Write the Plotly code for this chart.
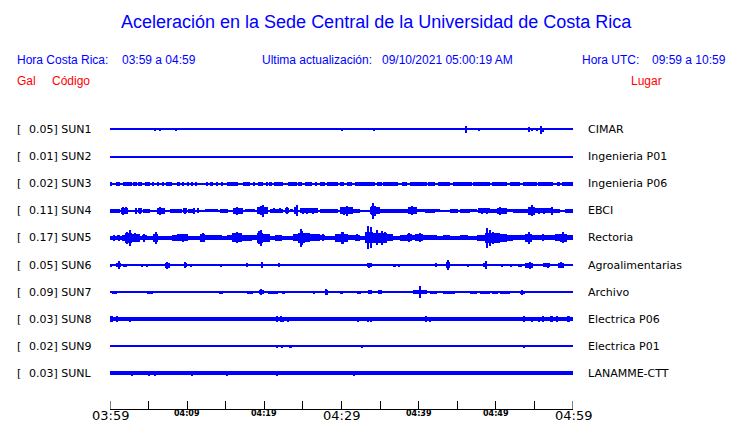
import plotly.graph_objects as go

# ---------------- data ----------------
STATIONS = ["SUN1", "SUN2", "SUN3", "SUN4", "SUN5", "SUN6", "SUN7", "SUN8", "SUN9", "SUNL"]
GAL = ["0.05", "0.01", "0.02", "0.11", "0.17", "0.05", "0.09", "0.03", "0.02", "0.03"]
PLACES = ["CIMAR", "Ingenieria P01", "Ingenieria P06", "EBCI", "Rectoria",
          "Agroalimentarias", "Archivo", "Electrica P06", "Electrica P01", "LANAMME-CTT"]
TICK_MIN = [0, 5, 10, 15, 20, 25, 30, 35, 40, 45, 50, 55, 60]
BIG_LABELS = {0: "03:59", 30: "04:29", 60: "04:59"}
SMALL_LABELS = {10: "04:09", 20: "04:19", 40: "04:39", 50: "04:49"}

# baseline half-amplitude (px) of each trace
BASE_HALF = [0.6, 0.6, 0.6, 1.0, 1.8, 0.6, 0.6, 2.0, 0.6, 2.0]

# envelope segments (start min, end min, half amplitude px)
SUN1_SEG = [(46.0, 46.3, 2.0), (56.0, 56.3, 2.0)]
SUN1_SPK = [(5.83, 1.2), (6.48, 1.2), (8.55, 1.7), (30.06, 1.0), (34.21, 1.5), (46.13, 3.3),
            (47.82, 1.5), (54.30, 2.5), (54.69, 1.2), (55.33, 1.0), (55.85, 4.0)]
SUN2_SEG = []
SUN2_SPK = [(21.64, 1.0)]
SUN3_SEG = [(0.0, 0.3, 1.9), (0.73, 1.30, 1.9), (1.73, 2.81, 1.9), (3.02, 3.46, 1.9), (3.67, 4.10, 1.9),
            (4.54, 5.18, 1.9), (6.13, 6.35, 1.9), (7.56, 7.99, 1.9), (8.64, 9.07, 1.9),
            (12.53, 12.74, 1.9), (12.96, 13.39, 1.9), (14.47, 14.69, 1.9), (15.12, 16.63, 1.9),
            (17.28, 18.14, 1.9), (18.57, 18.79, 1.9), (19.22, 19.87, 1.9), (20.73, 20.95, 1.9),
            (21.30, 22.46, 1.9), (23.02, 24.19, 1.9), (24.41, 24.84, 1.9), (25.27, 26.13, 1.9),
            (26.57, 26.78, 1.9), (27.21, 27.86, 1.9), (28.08, 29.59, 1.9), (29.81, 30.37, 1.9),
            (30.67, 31.32, 1.9), (31.75, 34.34, 1.9), (34.56, 35.21, 1.9), (35.42, 37.37, 1.9),
            (37.80, 38.44, 1.9), (38.88, 41.04, 1.9), (41.25, 42.12, 1.9), (42.55, 44.06, 1.9),
            (44.49, 46.87, 1.9), (47.08, 49.24, 1.9), (49.46, 51.40, 1.9), (51.84, 53.13, 1.9),
            (53.56, 55.29, 1.9), (55.51, 57.45, 1.9), (57.88, 58.31, 1.9), (58.53, 60.0, 1.9)]
SUN3_SPK = [(5.62, 1.9), (6.91, 1.9), (7.34, 1.9), (9.42, 1.9), (10.06, 1.9), (10.58, 1.9),
            (11.10, 1.9), (13.82, 1.9), (20.30, 1.9)]
SUN4_SEG = [(0.0, 1.3, 1.8), (1.43, 2.38, 3.0), (3.67, 4.10, 2.5), (4.32, 5.18, 2.0), (5.4, 5.83, 1.0),
            (6.05, 7.13, 3.0), (7.35, 7.56, 0.8), (7.78, 9.29, 2.0), (9.5, 9.94, 2.5), (10.15, 11.01, 2.2),
            (12.31, 14.04, 1.5), (14.26, 15.34, 1.8), (15.98, 17.28, 3.0), (17.5, 18.79, 1.5),
            (19.0, 20.52, 3.5), (20.73, 22.46, 2.0), (22.68, 23.2, 2.5), (23.33, 23.76, 1.5),
            (23.89, 24.41, 3.5), (24.62, 27.0, 2.5), (27.21, 29.59, 2.0), (29.81, 31.53, 3.5),
            (31.53, 32.40, 1.8), (33.69, 34.99, 3.5), (34.99, 35.85, 2.0), (35.85, 38.66, 1.8),
            (38.66, 39.74, 3.5), (39.74, 40.82, 1.5), (40.82, 42.12, 1.8), (42.12, 42.76, 1.5),
            (44.06, 45.14, 2.0), (45.36, 46.65, 1.8), (46.65, 47.52, 1.5), (47.73, 49.24, 2.5),
            (49.24, 50.11, 2.2), (50.11, 51.40, 3.0), (51.40, 52.27, 1.5), (52.27, 53.35, 1.8),
            (53.35, 54.21, 2.0), (54.21, 55.08, 4.0), (55.08, 56.59, 2.5), (56.59, 57.45, 2.5),
            (57.45, 58.31, 2.0), (58.96, 59.61, 1.8), (59.61, 60.0, 2.0)]
SUN4_SPK = [(1.73, 3.7), (2.03, 3.5), (3.33, 3.0), (3.89, 3.0), (6.48, 4.3), (9.72, 3.0), (10.93, 3.0),
            (11.45, 2.5), (16.41, 4.0), (19.6, 4.5), (19.78, 6.0), (21.2, 2.5), (22.0, 2.5), (22.89, 3.5),
            (24.23, 5.5), (25.0, 3.0), (25.6, 3.0), (26.3, 3.0), (30.3, 4.0), (30.67, 5.3), (33.9, 4.5),
            (34.13, 7.8), (34.4, 5.0), (39.09, 4.5), (48.2, 3.0), (48.9, 3.0), (50.6, 4.0), (54.64, 5.5),
            (55.6, 3.0), (56.2, 3.0), (57.24, 4.0)]
SUN5_SEG = [(0.0, 0.43, 2.0), (0.86, 1.30, 2.5), (1.51, 1.94, 3.0), (1.94, 2.81, 5.0), (2.81, 3.89, 4.0),
            (4.10, 4.75, 2.5), (4.97, 5.62, 2.0), (5.62, 6.26, 4.0), (6.26, 7.99, 2.0), (7.99, 8.64, 3.0),
            (8.64, 10.15, 3.5), (10.15, 11.66, 2.0), (11.66, 12.31, 4.0), (12.31, 13.61, 2.5),
            (13.61, 14.47, 2.5), (14.69, 15.12, 2.0), (15.12, 15.77, 2.5), (15.77, 17.06, 4.5),
            (17.06, 18.36, 3.0), (18.36, 19.01, 2.5), (19.01, 19.87, 5.0), (19.87, 20.73, 4.0),
            (20.95, 21.38, 2.0), (21.38, 22.25, 3.0), (22.46, 23.76, 2.0), (23.76, 24.41, 3.5),
            (24.41, 25.27, 5.0), (25.27, 25.92, 4.5), (25.92, 27.21, 3.5), (27.21, 27.86, 2.5),
            (27.86, 29.16, 2.0), (29.16, 30.89, 4.0), (30.89, 31.75, 2.5), (31.75, 32.40, 3.0),
            (32.40, 33.05, 2.0), (33.05, 34.13, 5.5), (34.13, 35.85, 5.0), (35.85, 36.72, 3.5),
            (36.72, 37.58, 2.0), (37.58, 38.44, 3.0), (38.44, 39.09, 3.5), (39.09, 39.52, 2.5),
            (39.52, 40.60, 3.5), (40.60, 42.33, 2.5), (42.33, 43.20, 1.8), (43.20, 44.06, 2.5),
            (44.06, 45.36, 2.0), (45.36, 46.44, 2.5), (46.44, 47.52, 2.0), (47.52, 48.60, 3.0),
            (48.60, 50.54, 5.0), (50.54, 51.40, 4.0), (51.40, 52.27, 3.0), (52.27, 53.78, 2.5),
            (53.78, 54.64, 4.0), (54.64, 55.72, 2.5), (55.72, 56.59, 2.5), (56.59, 57.67, 2.5),
            (57.67, 58.31, 3.5), (58.31, 59.18, 4.0), (59.18, 60.0, 2.5)]
SUN5_SPK = [(0.56, 3.0), (1.17, 3.0), (2.59, 7.8), (2.2, 6.0), (3.2, 4.5), (4.45, 4.0), (5.92, 6.0),
            (9.5, 4.0), (12.10, 4.5), (16.41, 5.5), (19.57, 8.0), (19.3, 6.5), (24.71, 9.3), (24.9, 7.0),
            (27.65, 3.5), (30.24, 6.0), (30.02, 6.0), (31.97, 3.5), (33.48, 11.5), (33.78, 10.5),
            (34.56, 7.5), (35.21, 7.0), (35.64, 5.5), (38.75, 4.5), (40.17, 4.5), (48.81, 10.0),
            (49.24, 8.0), (49.68, 6.0), (54.30, 6.0), (56.16, 3.5), (58.75, 5.5)]
SUN6_SEG = [(0.0, 0.2, 1.5), (0.78, 1.43, 2.0), (1.73, 2.16, 1.5), (4.02, 4.19, 1.5), (4.62, 4.88, 1.5),
            (7.13, 7.78, 2.5), (9.63, 9.94, 2.0), (10.37, 10.67, 1.5), (11.01, 11.23, 1.2),
            (14.26, 14.56, 1.5), (15.34, 15.55, 1.2), (17.71, 17.93, 2.0), (19.52, 19.87, 2.5),
            (21.81, 22.03, 2.0), (29.59, 29.94, 1.0), (33.35, 33.91, 2.0), (36.7, 37.1, 1.5),
            (42.12, 42.42, 2.0), (43.55, 44.06, 3.0), (48.38, 48.81, 2.0), (52.92, 53.35, 1.5),
            (53.78, 54.86, 2.5), (56.16, 57.02, 2.0), (58.10, 58.83, 2.5)]
SUN6_SPK = [(1.17, 4.0), (7.34, 3.5), (6.26, 1.0), (8.21, 1.0), (8.86, 1.0), (9.72, 3.0), (12.10, 0.8),
            (12.96, 0.8), (20.52, 1.2), (26.05, 1.0), (27.99, 0.8), (30.02, 1.0), (31.32, 0.8),
            (32.18, 1.2), (33.6, 2.5), (37.5, 1.5), (43.77, 4.7), (46.35, 1.5), (47.52, 1.0),
            (48.7, 4.0), (50.84, 1.5), (51.92, 1.5), (54.4, 3.5), (56.8, 2.5), (58.4, 3.0), (19.7, 3.0)]
SUN7_SEG = [(0.30, 0.86, 1.5), (4.75, 5.62, 1.5), (14.13, 14.69, 1.5), (17.71, 18.49, 1.5),
            (19.31, 20.0, 2.0), (20.52, 21.81, 1.5), (22.25, 22.68, 1.5), (26.35, 26.57, 1.5),
            (27.86, 28.21, 2.5), (29.81, 30.24, 1.5), (32.0, 32.48, 1.5), (33.48, 33.91, 2.0),
            (34.77, 35.21, 2.0), (39.22, 41.04, 2.0), (41.47, 42.33, 1.5), (43.2, 44.71, 1.5),
            (44.92, 45.57, 1.2), (45.79, 46.44, 1.2), (46.65, 47.6, 1.5), (47.95, 49.24, 1.5),
            (49.46, 50.32, 1.5), (50.54, 51.84, 1.5), (53.13, 53.78, 1.5), (54.1, 54.8, 1.0),
            (58.75, 59.18, 1.2), (59.4, 60.0, 1.2)]
SUN7_SPK = [(3.54, 1.0), (4.32, 1.0), (7.47, 1.2), (19.0, 1.2), (19.57, 3.0), (20.2, 1.0), (26.13, 0.8),
            (28.0, 3.0), (28.51, 1.0), (28.94, 0.8), (29.16, 0.8), (36.2, 0.8), (37.8, 1.2),
            (40.17, 6.3), (52.05, 1.0), (53.4, 2.5), (55.3, 0.8), (58.1, 0.8)]
SUN8_SEG = [(0.0, 0.43, 3.0), (53.5, 53.8, 2.8), (56.0, 56.2, 2.8), (57.0, 57.45, 2.8), (59.2, 59.6, 2.8)]
SUN8_SPK = [(0.97, 3.0), (2.59, 2.5), (10.24, 2.0), (21.6, 3.0), (22.16, 3.0), (22.46, 2.5),
            (23.02, 2.5), (32.18, 2.5), (33.48, 2.5), (33.83, 2.5), (40.95, 2.8), (41.47, 2.5),
            (54.64, 2.5), (55.64, 2.5), (57.9, 2.8)]
SUN9_SEG = [(23.24, 23.54, 1.2), (32.6, 32.8, 1.2), (39.3, 39.7, 1.0), (53.5, 53.8, 1.2)]
SUN9_SPK = [(4.45, 0.8), (13.95, 0.8), (16.5, 0.8), (18.79, 0.8), (20.95, 0.8), (21.68, 1.5),
            (22.25, 1.5), (25.7, 0.8), (26.48, 1.0), (27.95, 1.0), (30.32, 0.8), (34.9, 1.0),
            (36.07, 0.8), (37.24, 0.8), (38.23, 0.8), (49.16, 1.0), (51.19, 0.8), (56.16, 0.8),
            (58.1, 0.8), (59.4, 0.8)]
SUNL_SEG = []
SUNL_SPK = [(2.9, 2.4), (5.05, 2.4), (5.83, 2.4), (10.67, 2.4), (15.12, 2.2), (21.68, 2.6), (31.6, 2.2)]

SEGMENTS = [SUN1_SEG, SUN2_SEG, SUN3_SEG, SUN4_SEG, SUN5_SEG, SUN6_SEG, SUN7_SEG, SUN8_SEG, SUN9_SEG, SUNL_SEG]
SPIKES = [SUN1_SPK, SUN2_SPK, SUN3_SPK, SUN4_SPK, SUN5_SPK, SUN6_SPK, SUN7_SPK, SUN8_SPK, SUN9_SPK, SUNL_SPK]

# ---------------- layout constants ----------------
W, H = 740, 423
PL, PR_EDGE = 110, 573       # plot area x in px
PB_EDGE = 409                # x-axis line y in px
ROW0, ROWSTEP = 129.5, 27.1  # first row center and spacing (px)
SPK_W = 0.15                 # spike width (min)
TICK_LEN = 8

BLUE = "#0000ff"
RED = "#ff0000"

ymin_row = (0 - ROW0) / ROWSTEP
ymax_row = (PB_EDGE - ROW0) / ROWSTEP


def pxx(xp):
    return (xp - PL) / (PR_EDGE - PL)


def pyy(yp):
    return 1 - yp / PB_EDGE


fig = go.Figure()
for i, st in enumerate(STATIONS):
    xs, ws, bs, hs = [], [], [], []
    items = [(0.0, 60.0, BASE_HALF[i])] + list(SEGMENTS[i]) + [(t - SPK_W / 2, t + SPK_W / 2, a) for t, a in SPIKES[i]]
    for t0, t1, a in items:
        t0 = max(0.0, t0)
        t1 = min(60.0, t1)
        h = a / ROWSTEP
        xs.append((t0 + t1) / 2)
        ws.append(t1 - t0)
        bs.append(i - h)
        hs.append(2 * h)
    fig.add_trace(go.Bar(x=xs, y=hs, base=bs, width=ws, marker=dict(color=BLUE, line=dict(width=0)),
                         name=st, hoverinfo="skip", showlegend=False, cliponaxis=False))

ann = []
# title
ann.append(dict(text="Aceleración en la Sede Central de la Universidad de Costa Rica", x=pxx(376), y=pyy(22),
                xref="paper", yref="paper", xanchor="center", yanchor="middle", showarrow=False,
                font=dict(family="Liberation Sans", size=18, color=BLUE)))
hdr = [("Hora Costa Rica:", 15), ("03:59 a 04:59", 120), ("Ultima actualización:", 260),
       ("09/10/2021 05:00:19 AM", 380), ("Hora UTC:", 580), ("09:59 a 10:59", 650)]
for t, xp in hdr:
    ann.append(dict(text=t, x=pxx(xp), y=pyy(60), xref="paper", yref="paper", xanchor="left",
                    yanchor="middle", showarrow=False,
                    font=dict(family="Liberation Sans", size=12, color=BLUE)))
for t, xp in [("Gal", 15), ("Código", 50), ("Lugar", 629)]:
    ann.append(dict(text=t, x=pxx(xp), y=pyy(81), xref="paper", yref="paper", xanchor="left",
                    yanchor="middle", showarrow=False,
                    font=dict(family="Liberation Sans", size=12, color=RED)))
# row labels
for i, st in enumerate(STATIONS):
    ann.append(dict(text="[", x=pxx(15), y=i, xref="paper", yref="y", xanchor="left", yanchor="middle",
                    showarrow=False, font=dict(family="DejaVu Sans", size=11, color="black")))
    ann.append(dict(text=f"{GAL[i]}] {st}", x=pxx(27), y=i, xref="paper", yref="y", xanchor="left",
                    yanchor="middle", showarrow=False, font=dict(family="DejaVu Sans", size=11, color="black")))
    ann.append(dict(text=PLACES[i], x=pxx(586), y=i, xref="paper", yref="y", xanchor="left",
                    yanchor="middle", showarrow=False, font=dict(family="DejaVu Sans", size=11, color="black")))
# time labels
for m, t in BIG_LABELS.items():
    ann.append(dict(text=t, x=m, y=pyy(415), xref="x", yref="paper", xanchor="center", yanchor="middle",
                    showarrow=False, font=dict(family="DejaVu Sans", size=13, color="black")))
for m, t in SMALL_LABELS.items():
    ann.append(dict(text=t, x=m, y=pyy(413), xref="x", yref="paper", xanchor="center", yanchor="middle",
                    showarrow=False, font=dict(family="DejaVu Sans", size=8, color="black", weight="bold")))

# edge ticks (plotly hides inside ticks that sit on the plot edges)
shapes = [dict(type="line", xref="x", yref="paper", x0=m, x1=m, y0=0, y1=TICK_LEN / PB_EDGE,
               line=dict(color="black", width=1)) for m in (TICK_MIN[0], TICK_MIN[-1])]

fig.update_layout(
    width=W, height=H,
    margin=dict(l=PL, r=W - PR_EDGE, t=0, b=H - PB_EDGE, pad=0),
    paper_bgcolor="white", plot_bgcolor="white",
    barmode="overlay", bargap=0, bargroupgap=0,
    showlegend=False,
    annotations=ann,
    shapes=shapes,
    xaxis=dict(range=[0, 60], showgrid=False, zeroline=False, showline=True, linecolor="black",
               linewidth=1, ticks="inside", ticklen=TICK_LEN, tickcolor="black", tickwidth=1,
               tickvals=TICK_MIN, showticklabels=False, fixedrange=True),
    yaxis=dict(range=[ymax_row, ymin_row], showgrid=False, zeroline=False, showline=False,
               showticklabels=False, ticks="", fixedrange=True),
)

fig.write_html("out.html", config={"displayModeBar": False},
               post_script="document.body.style.margin='0px';document.body.style.overflow='hidden';")
